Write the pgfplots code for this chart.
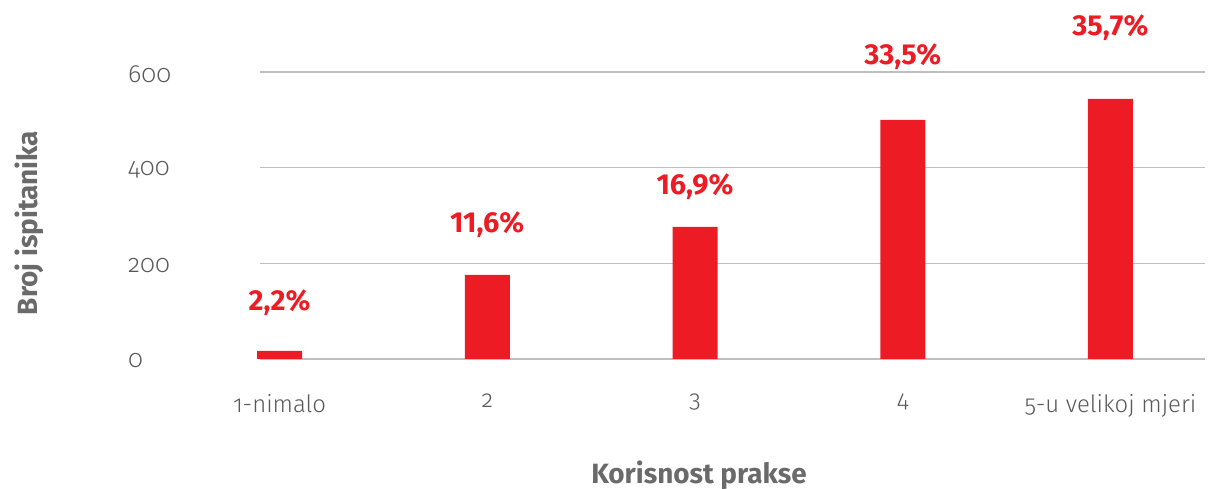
\documentclass[border=0pt]{standalone}
\usepackage{fontspec}
\setmainfont{Fira Sans}[UprightFont=* Light, BoldFont=* Bold, Numbers=OldStyle]
\newfontfamily\labfont{Fira Sans Bold}[Numbers=Lining]
\usepackage{pgfplots}
\pgfplotsset{compat=1.18}
\definecolor{barred}{HTML}{ED1C24}
\definecolor{txtgray}{HTML}{595959}
\definecolor{gridgray}{HTML}{BFBFBF}
\begin{document}
\begin{tikzpicture}
\path[use as bounding box] (0,0) rectangle (1208bp,489bp);
\begin{axis}[
  at={(260bp,130bp)}, anchor=south west,
  scale only axis, width=945bp, height=287bp,
  xmin=-0.094, xmax=4.455, ymin=0, ymax=600,
  ytick={0,200,400,600},
  xtick={0,1,2,3,4},
  xticklabels={1-nimalo,2,3,4,5-u velikoj mjeri},
  ymajorgrids, grid style={gridgray, line width=1.2pt},
  axis line style={draw=none},
  major tick style={draw=none},
  /pgf/number format/assume math mode=true,
  yticklabel style={anchor=west, inner sep=0pt, xshift=-132bp, yshift=-2bp, font=\fontsize{25}{30}\selectfont, text=txtgray},
  xticklabel style={anchor=north, inner sep=0pt, yshift=-35bp, font=\fontsize{24}{29}\selectfont, text=txtgray},
  clip=false,
]
\addplot[ybar, bar width=45bp, fill=barred, draw=none] coordinates {(0,17) (1,176) (2,276) (3,500) (4,544)};
\node[text=barred, font=\labfont\fontsize{29}{34}\selectfont] at (axis cs:0,117) {2,2\%};
\node[text=barred, font=\labfont\fontsize{29}{34}\selectfont] at (axis cs:1,281) {11,6\%};
\node[text=barred, font=\labfont\fontsize{29}{34}\selectfont] at (axis cs:2,360) {16,9\%};
\node[text=barred, font=\labfont\fontsize{29}{34}\selectfont] at (axis cs:3,632) {33,5\%};
\node[text=barred, font=\labfont\fontsize{29}{34}\selectfont] at (axis cs:4,692) {35,7\%};
\end{axis}
\node[text=txtgray!90!white, font=\bfseries\fontsize{28}{33}\selectfont] at (699bp,14bp) {Korisnost prakse};
\node[text=txtgray!90!white, font=\bfseries\fontsize{28}{33}\selectfont, rotate=90] at (29bp,266bp) {Broj ispitanika};
\end{tikzpicture}
\end{document}
